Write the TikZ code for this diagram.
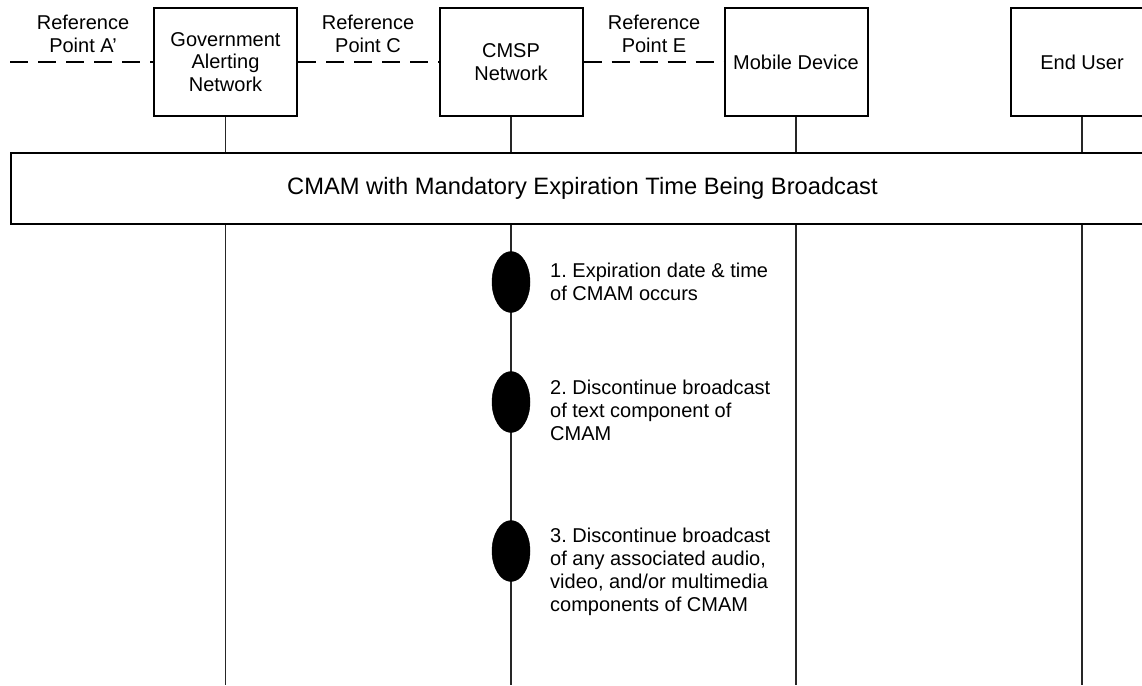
\documentclass[tikz,border=0pt]{standalone}
\usepackage{fontspec}
\setmainfont{Liberation Sans}
\usetikzlibrary{shapes.geometric}
\begin{document}
\frenchspacing
\begin{tikzpicture}[x=1pt,y=-1pt,
  ent/.style={draw=black,line width=2pt,minimum width=143pt,minimum height=108pt,inner sep=0pt,align=center,font=\fontsize{20}{22.5}\selectfont},
  reflabel/.style={align=center,font=\fontsize{20}{22.5}\selectfont,inner sep=0pt},
  refline/.style={line width=1.6pt,dash pattern=on 18pt off 10pt},
  life/.style={line width=1.2pt,draw=black!85},
  evt/.style={ellipse,fill=black,draw=black,minimum width=38pt,minimum height=61pt,inner sep=0pt},
  evtxt/.style={anchor=north west,align=left,font=\fontsize{20}{22.8}\selectfont,inner sep=0pt}]
\useasboundingbox (0,0) rectangle (1142,685);
\begin{scope}
\clip (0,0) rectangle (1142,685);
% entity boxes
\node[ent] (gov) at (225.5,62) {Government\\Alerting\\Network};
\node[ent] (cmsp) at (511,62) {CMSP\\Network};
\node[ent] (mob) at (796,62) {Mobile Device};
\node[ent] (user) at (1082,62) {End User};
% reference point labels
\node[reflabel] (ra) at (83,34) {Reference\\Point A'};
\node[reflabel] (rc) at (368,34) {Reference\\Point C};
\node[reflabel] (re) at (654,34) {Reference\\Point E};
\coordinate (lend) at (10,62);
\draw[refline] (lend) -- (gov.west);
\draw[refline] (gov.east) -- (cmsp.west);
\draw[refline] (cmsp.east) -- (mob.west);
% broadcast box
\node[draw=black,line width=1.5pt,minimum width=1143pt,minimum height=71pt,inner sep=0pt,font=\fontsize{23.7}{27}\selectfont] (bc) at (582.5,188.5) {CMAM with Mandatory Expiration Time Being Broadcast};
% lifelines
\foreach \e in {gov,cmsp,mob,user}{
  \draw[life] (\e.south) -- (\e.south |- bc.north);
  \coordinate (\e-end) at (\e.south |- 0,685);
  \draw[life] (\e.south |- bc.south) -- (\e-end);
}
% events
\node[evt] (e1) at (511,282) {};
\node[evt] (e2) at (511,402) {};
\node[evt] (e3) at (511,551) {};
\node[evtxt] (t1) at (550,263) {1. Expiration date \& time\\of CMAM occurs};
\node[evtxt] (t2) at (550,380) {2. Discontinue broadcast\\of text component of\\CMAM};
\node[evtxt] (t3) at (550,528) {3. Discontinue broadcast\\of any associated audio,\\video, and/or multimedia\\components of CMAM};
\end{scope}
\end{tikzpicture}
\end{document}
